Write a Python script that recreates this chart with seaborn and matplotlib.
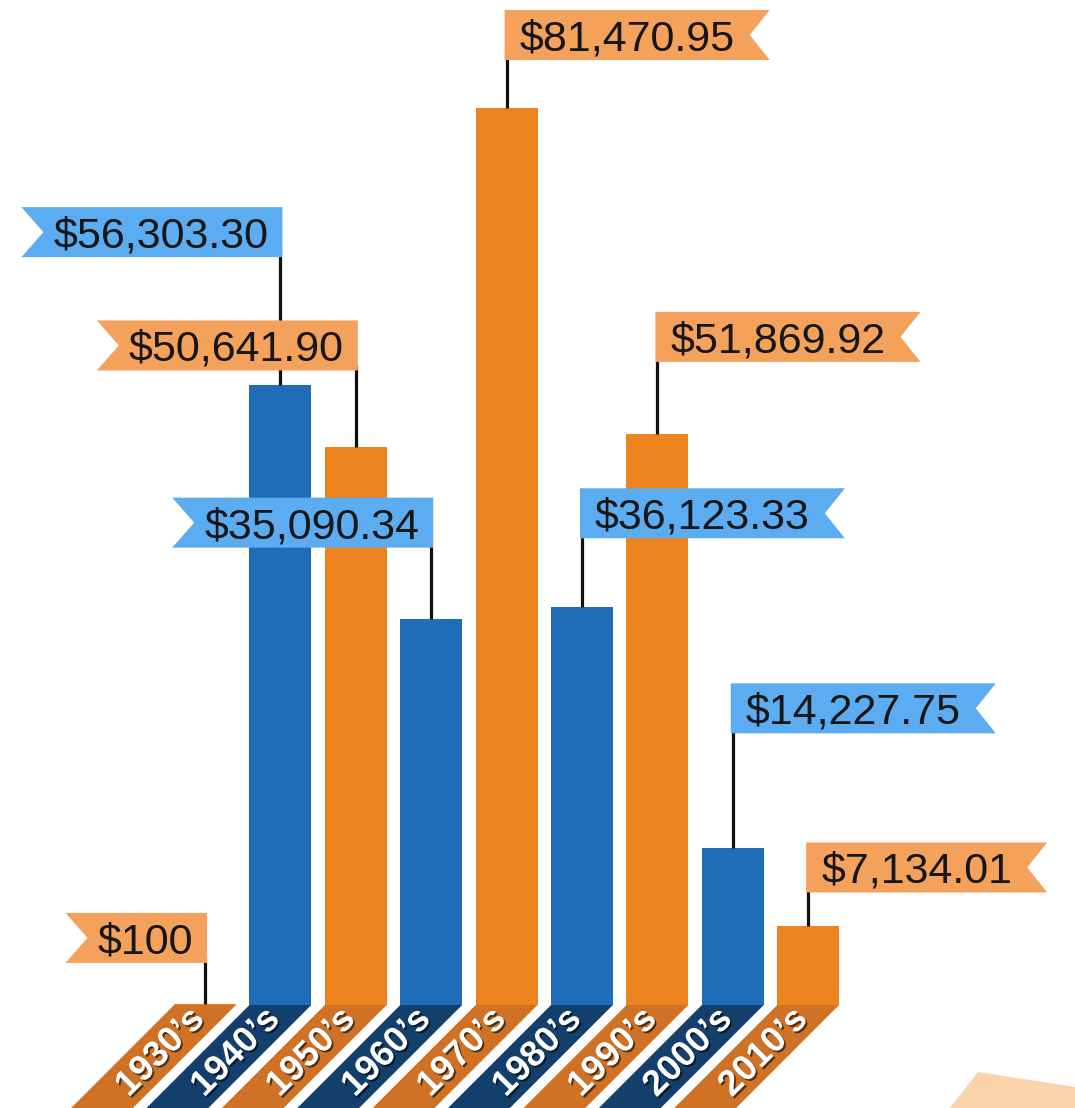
import matplotlib
matplotlib.use("Agg")
import matplotlib.pyplot as plt
import matplotlib.patheffects as pe
from matplotlib.patches import Polygon
import seaborn as sns
import pandas as pd

# ---- data ----
decades = ["1930’s", "1940’s", "1950’s", "1960’s", "1970’s",
           "1980’s", "1990’s", "2000’s", "2010’s"]
amounts = [100, 56303.30, 50641.90, 35090.34, 81470.95,
           36123.33, 51869.92, 14227.75, 7134.01]
tones = ["orange", "blue", "orange", "blue", "orange",
         "blue", "orange", "blue", "orange"]

# ---- layout / style ----
flag_sides = ["left", "left", "left", "left", "right",
              "right", "right", "right", "right"]
leader_px = [41, 128, 77, 71, 48, 69, 72, 115, 34]

bar_colors = {"orange": "#ec831f", "blue": "#1f6db8"}
strip_colors = {"orange": "#cf7226", "blue": "#133f6c"}
flag_colors = {"orange": "#f4a25b", "blue": "#5cacf1"}


def money(v):
    return f"${v:,.0f}" if float(v).is_integer() else f"${v:,.2f}"


labels = [money(v) for v in amounts]

sns.set_style("white")
plt.rcParams["font.family"] = ["Liberation Sans", "DejaVu Sans"]

W, H, DPI = 1075, 1108, 100
fig = plt.figure(figsize=(W / DPI, H / DPI), dpi=DPI)
ax = fig.add_axes([0, 0, 1, 1])

df = pd.DataFrame({"decade": decades, "amount": amounts, "tone": tones})
sns.barplot(data=df, x="decade", y="amount", hue="tone", palette=bar_colors,
            dodge=False, width=0.82, saturation=1, errorbar=None,
            legend=False, ax=ax, zorder=3, linewidth=0)

ymax = max(amounts)
ax.set_ylim(-ymax * 103 / 897, ymax * 1005 / 897)
ax.set_xlim(-205 / 75.4, 870 / 75.4)
ax.axis("off")

fig.canvas.draw()
renderer = fig.canvas.get_renderer()
inv = ax.transData.inverted()


def d2p(x, y):
    return ax.transData.transform((x, y))


def p2d(pts):
    return inv.transform(pts)


unit_px = d2p(1, 0)[0] - d2p(0, 0)[0]
half = 0.41 * unit_px
FLAG_FS = 31
cap = FLAG_FS * DPI / 72 * 0.716

for i, (dec, val, tone) in enumerate(zip(decades, amounts, tones)):
    X, Y0 = d2p(i, 0)
    D = Y0 + 4
    strip = [(X - half, Y0), (X + half, Y0), (X + half - D, Y0 - D),
             (X - half - D, Y0 - D)]
    ax.add_patch(Polygon(p2d(strip), closed=True, fc=strip_colors[tone],
                         ec="none", zorder=2))
    cx, cy = p2d([(X - D / 2 + 9, Y0 - D / 2 + 6)])[0]
    ax.text(cx, cy, dec, rotation=45, rotation_mode="anchor", ha="center",
            va="center", color="white", fontsize=26, fontweight="bold",
            zorder=6,
            path_effects=[pe.withSimplePatchShadow(offset=(1.3, -1.3),
                                                   shadow_rgbFace="black",
                                                   alpha=0.6)])

    # flag
    _, Yt = d2p(i, val)
    yb = Yt + leader_px[i]
    ytop = yb + 50
    ymid = yb + 25
    lx0, ly0 = p2d([(X, Yt)])[0]
    lx1, ly1 = p2d([(X, yb + 5)])[0]
    ax.plot([lx0, lx1], [ly0, ly1], color="#111111", lw=2.3, zorder=4,
            solid_capstyle="butt")
    if flag_sides[i] == "right":
        tx, ty = p2d([(X + 13, ymid - cap / 2)])[0]
        t = ax.text(tx, ty, labels[i], ha="left", va="baseline",
                    fontsize=FLAG_FS, color="#161616", zorder=6)
        bb = t.get_window_extent(renderer=renderer)
        x0, x1 = X - 2, bb.x1 + 35
        poly = [(x0, yb), (x1, yb), (x1 - 20, ymid), (x1, ytop), (x0, ytop)]
    else:
        tx, ty = p2d([(X - 12, ymid - cap / 2)])[0]
        t = ax.text(tx, ty, labels[i], ha="right", va="baseline",
                    fontsize=FLAG_FS, color="#161616", zorder=6)
        bb = t.get_window_extent(renderer=renderer)
        x0, x1 = bb.x0 - 32, X + 2
        poly = [(x0, yb), (x1, yb), (x1, ytop), (x0, ytop), (x0 + 22, ymid)]
    ax.add_patch(Polygon(p2d(poly), closed=True, fc=flag_colors[tone],
                         ec="none", zorder=5))

# decorative corner shape
corner = [(978, 1072), (1075, 1087), (1075, 1108), (950, 1108)]
fig.add_artist(Polygon([(x / W, 1 - y / H) for x, y in corner], closed=True,
                       transform=fig.transFigure, fc="#fbd3ab", ec="none",
                       zorder=0))

fig.savefig("out.png", dpi=DPI)
